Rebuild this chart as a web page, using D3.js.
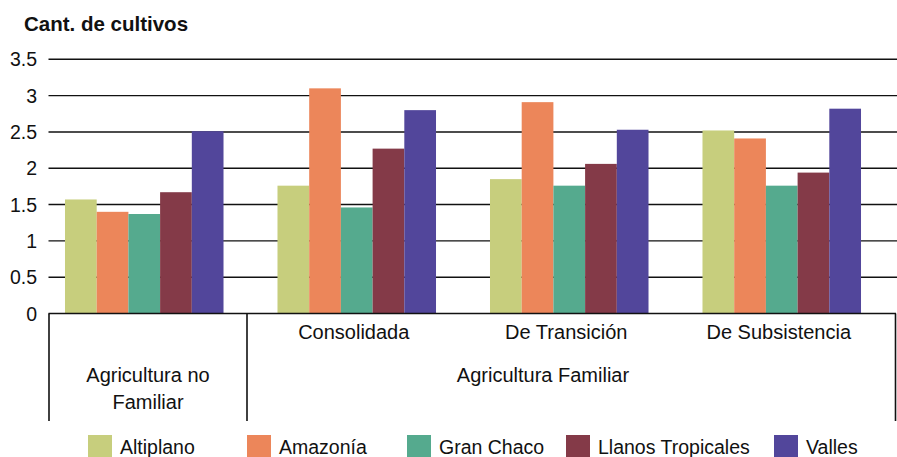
<!DOCTYPE html>
<html>
<head>
<meta charset="utf-8">
<script src="https://cdn.jsdelivr.net/npm/d3@7/dist/d3.min.js"></script>
<style>
  html, body { margin: 0; padding: 0; background: #fff; }
  svg { display: block; }
  text { font-family: "Liberation Sans", Arial, sans-serif; fill: #111; }
</style>
</head>
<body>
<svg id="chart" width="897" height="457"></svg>
<script>
// ---- data ----
const groups = ["Agricultura no Familiar", "Consolidada", "De Transición", "De Subsistencia"];
const series = ["Altiplano", "Amazonía", "Gran Chaco", "Llanos Tropicales", "Valles"];
const altiplano = [1.57, 1.76, 1.85, 2.52];
const amazonia  = [1.40, 3.10, 2.91, 2.41];
const granChaco = [1.37, 1.46, 1.76, 1.76];
const llanos    = [1.67, 2.27, 2.06, 1.94];
const valles    = [2.51, 2.80, 2.53, 2.82];
const yTicks = [0, 0.5, 1, 1.5, 2, 2.5, 3, 3.5];
const yTitle = "Cant. de cultivos";
const parentLabel = "Agricultura Familiar";
const colors = ["#C7CE7D", "#EC865A", "#55AA8E", "#843A48", "#52469B"];

const values = [altiplano, amazonia, granChaco, llanos, valles];

const svg = d3.select("#chart");

const y = d3.scaleLinear().domain([0, 3.5]).range([313.5, 59.3]);
const x0 = d3.scaleBand().domain(groups).range([38, 888]).paddingInner(0.254).paddingOuter(0.127);
const x1 = d3.scaleBand().domain(series).range([0, x0.bandwidth()]);
const color = d3.scaleOrdinal().domain(series).range(colors);

const plotLeft = 48.5, plotRight = 897;

// gridlines
svg.append("g").selectAll("line").data(yTicks.filter(d => d > 0)).join("line")
  .attr("x1", plotLeft).attr("x2", plotRight)
  .attr("y1", d => y(d)).attr("y2", d => y(d))
  .attr("stroke", "#111").attr("stroke-width", 1.4);

// y tick labels
svg.append("g").selectAll("text").data(yTicks).join("text")
  .attr("x", 37).attr("y", d => y(d))
  .attr("dy", "0.36em")
  .attr("text-anchor", "end")
  .attr("font-size", 19.5)
  .text(d => d);

// title
svg.append("text").attr("x", 24).attr("y", 31)
  .attr("font-size", 20.5).attr("font-weight", "bold")
  .text(yTitle);

// bars
const gGroups = svg.append("g").selectAll("g").data(groups).join("g")
  .attr("transform", g => `translate(${x0(g)},0)`);
gGroups.selectAll("rect")
  .data((g, gi) => series.map((s, si) => ({ s, v: values[si][gi] })))
  .join("rect")
  .attr("x", d => x1(d.s))
  .attr("width", x1.bandwidth())
  .attr("y", d => y(d.v))
  .attr("height", d => y(0) - y(d.v))
  .attr("fill", d => color(d.s));

// zero axis line
svg.append("line")
  .attr("x1", plotLeft).attr("x2", 896)
  .attr("y1", y(0)).attr("y2", y(0))
  .attr("stroke", "#111").attr("stroke-width", 1.6);

// category box lines
const boxBottom = 421;
const sepX = 247;
[49, sepX, 895.5].forEach(xx => {
  svg.append("line").attr("x1", xx).attr("x2", xx)
    .attr("y1", y(0)).attr("y2", boxBottom)
    .attr("stroke", "#111").attr("stroke-width", 1.6);
});

// sub-category labels
svg.append("g").selectAll("text").data(groups.slice(1)).join("text")
  .attr("x", g => x0(g) + x0.bandwidth() / 2 - 3)
  .attr("y", 339)
  .attr("text-anchor", "middle")
  .attr("font-size", 20)
  .text(g => g);

// first group (two lines)
const first = svg.append("text")
  .attr("text-anchor", "middle")
  .attr("font-size", 20);
first.append("tspan").attr("x", (49 + sepX) / 2).attr("y", 382).text("Agricultura no");
first.append("tspan").attr("x", (49 + sepX) / 2).attr("y", 409).text("Familiar");

// parent label
svg.append("text").attr("x", 543).attr("y", 382)
  .attr("text-anchor", "middle").attr("font-size", 20)
  .text(parentLabel);

// legend
const legendX = [88, 247, 407, 566, 774];
const leg = svg.append("g").selectAll("g").data(series).join("g")
  .attr("transform", (s, i) => `translate(${legendX[i]},435)`);
leg.append("rect").attr("width", 24).attr("height", 24).attr("fill", s => color(s));
leg.append("text").attr("x", 32).attr("y", 18.5)
  .attr("font-size", 19.5)
  .text(s => s);
</script>
</body>
</html>
